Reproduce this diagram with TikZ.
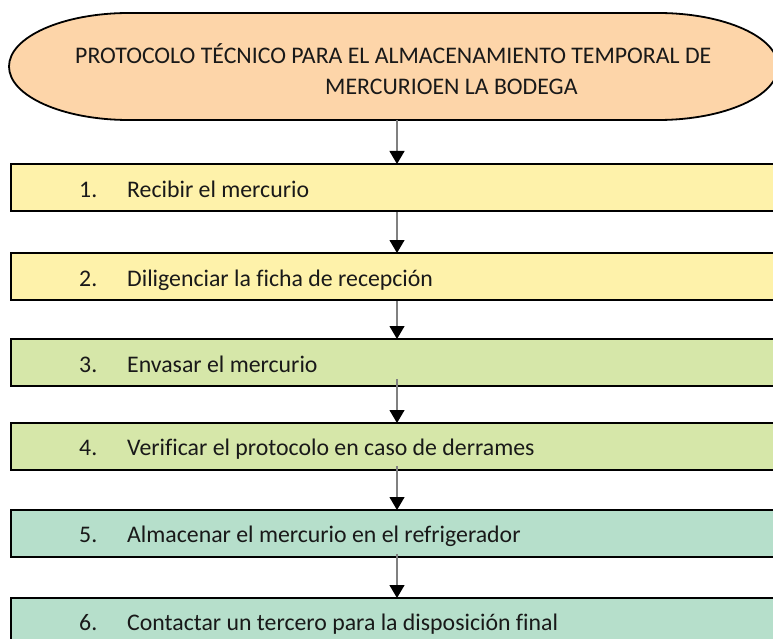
\documentclass[tikz,border=0pt]{standalone}
\usepackage{fontspec}
\setmainfont[Ligatures=CommonOff]{Carlito}
\usetikzlibrary{arrows.meta}
\definecolor{peach}{HTML}{FDD5A9}
\definecolor{ylw}{HTML}{FEF2AA}
\definecolor{grn}{HTML}{D6E7A9}
\definecolor{teal2}{HTML}{B6DFCB}
\definecolor{conngray}{HTML}{808080}
\tikzset{
  stepbox/.style={draw=black, line width=2pt, minimum width=800pt, minimum height=47pt, anchor=north west, inner sep=0pt},
  txt/.style={anchor=base west, inner sep=0pt, font=\fontsize{23.8}{28}\selectfont, text=black!90},
  conn/.style={draw=conngray, line width=1.2pt, -{Triangle[width=15pt,length=13pt,black]}, shorten >=-1pt}
}
\begin{document}
\begin{tikzpicture}[x=1pt,y=-1pt]
\useasboundingbox (0,0) rectangle (773,639);
% title terminator
\draw[fill=peach, line width=1.8pt]
  (129,13) -- (658,13)
  .. controls (724.3,13) and (778,36.95) .. (778,66.5)
  .. controls (778,96.05) and (724.3,120) .. (658,120)
  -- (129,120)
  .. controls (62.7,120) and (9,96.05) .. (9,66.5)
  .. controls (9,36.95) and (62.7,13) .. (129,13) -- cycle;
\coordinate (ovb) at (397,120);
\node[txt] (tl1) at (75,63.5) {PROTOCOLO TÉCNICO PARA EL ALMACENAMIENTO TEMPORAL DE};
\node[txt] (tl2) at (325,95) {MERCURIOEN LA BODEGA};
% boxes
\node[stepbox, fill=ylw] (b1) at (10,163) {};
\node[stepbox, fill=ylw] (b2) at (10,252) {};
\node[stepbox, fill=grn] (b3) at (10,338) {};
\node[stepbox, fill=grn] (b4) at (10,422) {};
\node[stepbox, fill=teal2] (b5) at (10,509) {};
\node[stepbox, fill=teal2] (b6) at (10,597) {};
% texts
\node[txt] (n1) at (79,197) {1.};
\node[txt] (s1) at (127,197) {Recibir el mercurio};
\node[txt] (n2) at (79,286) {2.};
\node[txt] (s2) at (127,286) {Diligenciar la ficha de recepción};
\node[txt] (n3) at (79,372) {3.};
\node[txt] (s3) at (127,372) {Envasar el mercurio};
\node[txt] (n4) at (79,455) {4.};
\node[txt] (s4) at (127,455) {Verificar el protocolo en caso de derrames};
\node[txt] (n5) at (79,542) {5.};
\node[txt] (s5) at (127,542) {Almacenar el mercurio en el refrigerador};
\node[txt] (n6) at (79,630) {6.};
\node[txt] (s6) at (127,630) {Contactar un tercero para la disposición final};
% connectors
\draw[conn] (ovb) -- (b1.north -| ovb);
\draw[conn] (b1.south -| ovb) -- (b2.north -| ovb);
\draw[conn] (b2.south -| ovb) -- (b3.north -| ovb);
\draw[conn] ([yshift=8pt]b3.south -| ovb) -- (b4.north -| ovb);
\draw[conn] ([yshift=5pt]b4.south -| ovb) -- (b5.north -| ovb);
\draw[conn] ([yshift=4pt]b5.south -| ovb) -- (b6.north -| ovb);
\end{tikzpicture}
\end{document}
